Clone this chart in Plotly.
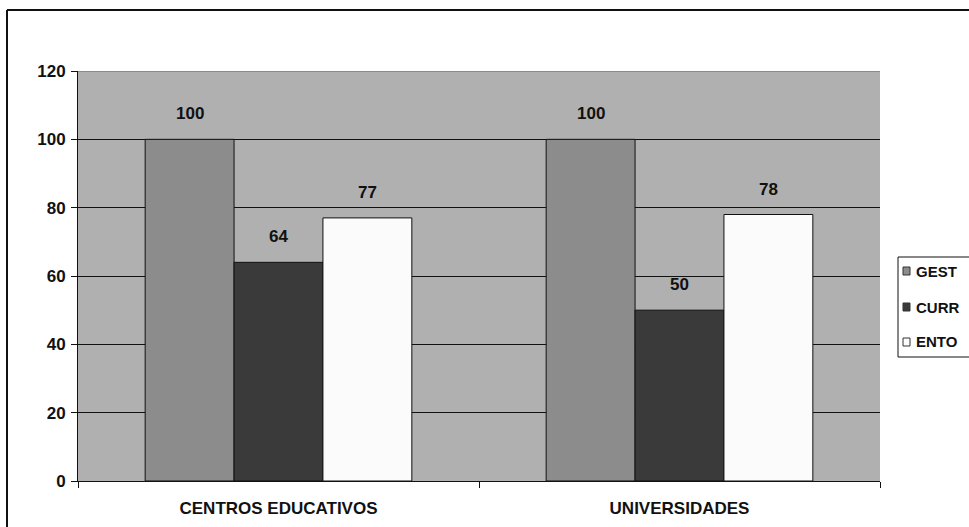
import plotly.graph_objects as go

categories = ["CENTROS EDUCATIVOS", "UNIVERSIDADES"]
series_names = ["GEST", "CURR", "ENTO"]
gest = [100, 100]
curr = [64, 50]
ento = [77, 78]
y_ticks = [0, 20, 40, 60, 80, 100, 120]

colors = {"GEST": "#8c8c8c", "CURR": "#3a3a3a", "ENTO": "#fbfbfb"}
font_family = "Liberation Sans, Arial, sans-serif"
ink = "#111111"
BARGAP = 0.335

# plot area in pixels, used to place the hand-drawn legend
L, R, T, B = 78, 89, 71, 46
W, H = 969, 527
PW, PH = W - L - R, H - T - B


def px_x(px):
    return (px - L) / PW


def px_y(py):
    return (H - B - py) / PH


fig = go.Figure()
for name, vals in zip(series_names, [gest, curr, ento]):
    fig.add_trace(go.Bar(
        name=name,
        x=categories,
        y=vals,
        marker=dict(color=colors[name], line=dict(color=ink, width=1)),
        offsetgroup=name,
        showlegend=False,
    ))

# value labels above each bar, placed at the bar's group offset
n = len(series_names)
slot = (1 - BARGAP) / n
for i, (name, vals) in enumerate(zip(series_names, [gest, curr, ento])):
    offset = -((1 - BARGAP) / 2) + slot * (i + 0.5)
    for c, v in enumerate(vals):
        fig.add_annotation(
            x=c + offset, y=v, xref="x", yref="y",
            text=f"<b>{v}</b>", showarrow=False,
            yanchor="bottom", yshift=14,
            font=dict(family=font_family, size=17, color=ink),
        )

# legend: framed box with small square swatches
fig.add_shape(type="rect", xref="paper", yref="paper",
              x0=px_x(898), x1=px_x(980), y0=px_y(357), y1=px_y(257),
              line=dict(color=ink, width=1), fillcolor="white")
for name, cy in zip(series_names, [271, 307, 342]):
    fig.add_shape(type="rect", xref="paper", yref="paper",
                  x0=px_x(903), x1=px_x(910), y0=px_y(cy + 4), y1=px_y(cy - 4),
                  line=dict(color="#333333", width=1), fillcolor=colors[name])
    fig.add_annotation(
        x=px_x(914), y=px_y(cy), xref="paper", yref="paper",
        text=f"<b>{name}</b>", showarrow=False,
        xanchor="left", yanchor="middle",
        font=dict(family=font_family, size=15, color=ink),
    )

fig.update_layout(
    width=W,
    height=H,
    barmode="group",
    bargap=BARGAP,
    bargroupgap=0,
    paper_bgcolor="white",
    plot_bgcolor="#b0b0b0",
    margin=dict(l=L, r=R, t=T, b=B, autoexpand=False),
    font=dict(family=font_family, size=15, color=ink),
    showlegend=False,
)

fig.update_xaxes(
    type="category",
    showline=True, linecolor=ink, linewidth=1,
    ticks="outside", tickson="boundaries", ticklen=6, tickcolor=ink,
    tickfont=dict(family=font_family, size=17, color=ink, weight="bold"),
    ticklabelstandoff=12,
    showgrid=False,
)
fig.update_yaxes(
    range=[0, 120],
    tickvals=y_ticks,
    showline=True, linecolor=ink, linewidth=1,
    ticks="outside", ticklen=6, tickcolor=ink,
    tickfont=dict(family=font_family, size=17, color=ink, weight="bold"),
    ticklabelstandoff=2,
    showgrid=True, gridcolor=ink, gridwidth=1,
    zeroline=False,
)

# soften the top edge of the plotting area and draw the outer frame
fig.add_shape(type="line", xref="paper", yref="y", x0=0, x1=1, y0=120, y1=120,
              line=dict(color="#8a8a8a", width=2), layer="above")
fig.add_shape(type="line", xref="paper", yref="paper",
              x0=px_x(7), x1=px_x(7), y0=px_y(540), y1=px_y(10),
              line=dict(color=ink, width=2))
fig.add_shape(type="line", xref="paper", yref="paper",
              x0=px_x(7), x1=px_x(980), y0=px_y(10), y1=px_y(10),
              line=dict(color=ink, width=2))

fig.write_html("out.html")
